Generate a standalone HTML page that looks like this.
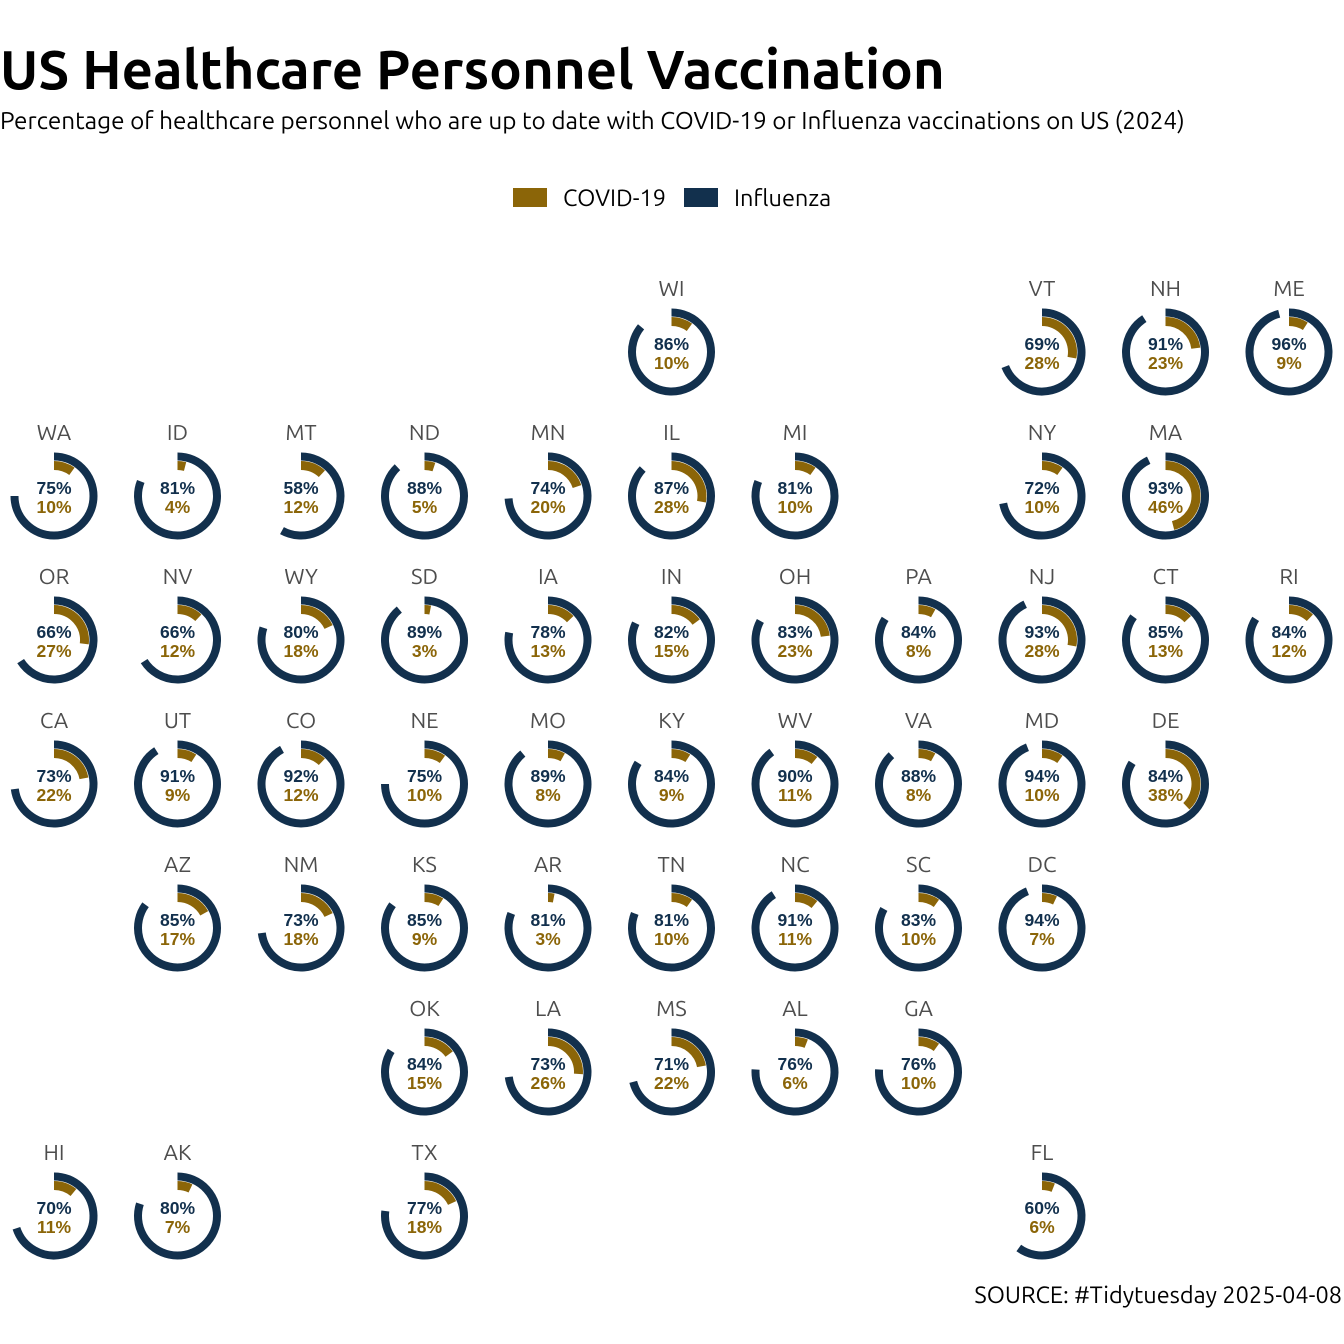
<!DOCTYPE html>
<html><head><meta charset="utf-8"><style>
body{margin:0;background:#fff;}
svg{display:block;font-family:"Ubuntu","Liberation Sans","DejaVu Sans",sans-serif;}
</style></head><body>
<svg id="chart" width="1344" height="1344" viewBox="0 0 1344 1344">
<text x="0" y="89" font-size="54.5" font-weight="bold" fill="#000">US Healthcare Personnel Vaccination</text>
<text x="0" y="129" font-size="24.3" fill="#000">Percentage of healthcare personnel who are up to date with COVID-19 or Influenza vaccinations on US (2024)</text>
<g>
<rect x="513" y="188" width="34" height="19" fill="#8b6508"/>
<text x="563" y="206" font-size="23.5" fill="#000">COVID-19</text>
<rect x="684" y="188" width="34" height="19" fill="#12304d"/>
<text x="734" y="206" font-size="23.5" fill="#000">Influenza</text>
</g>
<g id="tiles"></g>
<text x="1342" y="1303" font-size="23.5" text-anchor="end" fill="#000">SOURCE: #Tidytuesday 2025-04-08</text>
</svg>
<script>
const states = ["WI","VT","NH","ME","WA","ID","MT","ND","MN","IL","MI","NY","MA","OR","NV","WY","SD","IA","IN","OH","PA","NJ","CT","RI","CA","UT","CO","NE","MO","KY","WV","VA","MD","DE","AZ","NM","KS","AR","TN","NC","SC","DC","OK","LA","MS","AL","GA","HI","AK","TX","FL"];
const gridCol = [5,8,9,10,0,1,2,3,4,5,6,8,9,0,1,2,3,4,5,6,7,8,9,10,0,1,2,3,4,5,6,7,8,9,1,2,3,4,5,6,7,8,3,4,5,6,7,0,1,3,8];
const gridRow = [0,0,0,0,1,1,1,1,1,1,1,1,1,2,2,2,2,2,2,2,2,2,2,2,3,3,3,3,3,3,3,3,3,3,4,4,4,4,4,4,4,4,5,5,5,5,5,6,6,6,6];
const influenza = [86,69,91,96,75,81,58,88,74,87,81,72,93,66,66,80,89,78,82,83,84,93,85,84,73,91,92,75,89,84,90,88,94,84,85,73,85,81,81,91,83,94,84,73,71,76,76,70,80,77,60];
const covid = [10,28,23,9,10,4,12,5,20,28,10,10,46,27,12,18,3,13,15,23,8,28,13,12,22,9,12,10,8,9,11,8,10,38,17,18,9,3,10,11,10,7,15,26,22,6,10,11,7,18,6];

const NS="http://www.w3.org/2000/svg";
const xPos = c => 54 + 123.5*c;
const yPos = r => 352 + 144*r;
function arc(cx,cy,r,pct){
  const a = Math.min(pct,99.9)/100*2*Math.PI;
  const x0=cx, y0=cy-r, x1=cx+r*Math.sin(a), y1=cy-r*Math.cos(a);
  return `M${x0},${y0} A${r},${r} 0 ${pct>50?1:0} 1 ${x1},${y1}`;
}
const g=document.getElementById('tiles');
states.forEach((s,i)=>{
  const cx=xPos(gridCol[i]), cy=yPos(gridRow[i]);
  const t=document.createElementNS(NS,'g');
  
  
  const lab=document.createElementNS(NS,'text');
  
  
  lab.setAttribute('x',cx);lab.setAttribute('y',cy-56);
  lab.setAttribute('text-anchor','middle');lab.setAttribute('font-size','22');lab.setAttribute('fill','#4d4d4d');
  lab.textContent=s;t.appendChild(lab);
  const fl=document.createElementNS(NS,'path');
  
  
  fl.setAttribute('d',arc(cx,cy,39.5,influenza[i]));
  fl.setAttribute('fill','none');fl.setAttribute('stroke','#12304d');fl.setAttribute('stroke-width','8');
  t.appendChild(fl);
  const cv=document.createElementNS(NS,'path');
  
  
  cv.setAttribute('d',arc(cx,cy,30.5,covid[i]));
  cv.setAttribute('fill','none');cv.setAttribute('stroke','#8b6508');cv.setAttribute('stroke-width','9');
  t.appendChild(cv);
  const v1=document.createElementNS(NS,'text');
  
  
  v1.setAttribute('x',cx);v1.setAttribute('y',cy-2);v1.setAttribute('text-anchor','middle');
  v1.setAttribute('font-size','17.5');v1.setAttribute('font-weight','bold');v1.setAttribute('fill','#12304d');
  v1.setAttribute('font-family','Liberation Sans, sans-serif');
  v1.textContent=influenza[i]+'%';t.appendChild(v1);
  const v2=document.createElementNS(NS,'text');
  
  
  v2.setAttribute('x',cx);v2.setAttribute('y',cy+17);v2.setAttribute('text-anchor','middle');
  v2.setAttribute('font-size','17.5');v2.setAttribute('font-weight','bold');v2.setAttribute('fill','#8b6508');
  v2.setAttribute('font-family','Liberation Sans, sans-serif');
  v2.textContent=covid[i]+'%';t.appendChild(v2);
  g.appendChild(t);
});
</script>
</body></html>
